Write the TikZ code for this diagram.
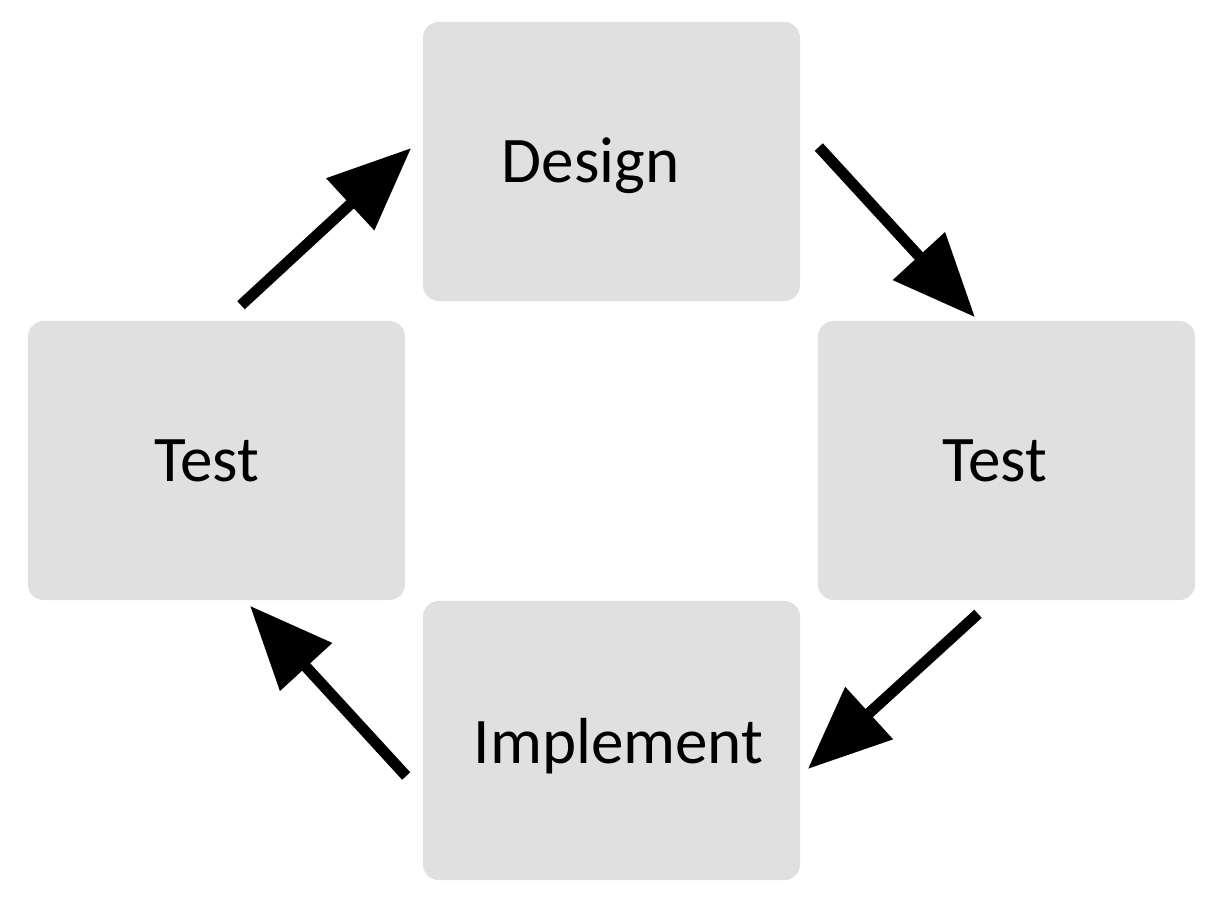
\documentclass[tikz,border=0pt]{standalone}
\usepackage{fontspec}
\setmainfont{Carlito}
\usetikzlibrary{arrows.meta}
\definecolor{boxgray}{HTML}{E0E0E0}
\tikzset{
  stage/.style={fill=boxgray,rounded corners=0.16cm,minimum width=3.77cm,minimum height=2.79cm,inner sep=0pt},
  stagetxt/.style={anchor=base,inner sep=0pt,font=\fontsize{18.5}{22}\selectfont},
  flow/.style={line width=0.11cm,-{Triangle[length=0.83cm,width=0.68cm]}}
}
\begin{document}
\begin{tikzpicture}[x=0.01cm,y=-0.01cm]
\useasboundingbox (0,0) rectangle (1220,908);

% the four boxes
\node[stage] (design) at (611.5,161.5) {};
\node[stage] (ltest) at (216.5,460.5) {};
\node[stage] (rtest) at (1006.5,460.5) {};
\node[stage] (impl) at (611.5,740.5) {};

\node[stagetxt] (designtxt) at ([shift={(-21,20.5)}]design.center) {Design};
\node[stagetxt] (ltesttxt) at ([shift={(-9.5,20.5)}]ltest.center) {Test};
\node[stagetxt] (rtesttxt) at ([shift={(-11.5,20.5)}]rtest.center) {Test};
\node[stagetxt] (impltxt) at ([shift={(7,22.5)}]impl.center) {Implement};

% arrows round the cycle
\draw[flow] ([shift={(24.5,-15)}]ltest.north) -- ([shift={(-11,-13.5)}]design.west);
\draw[flow] ([shift={(18,-14.5)}]design.east) -- ([shift={(-31.5,-3)}]rtest.north);
\draw[flow] ([shift={(-28.5,13)}]rtest.south) -- ([shift={(7,28.5)}]impl.east);
\draw[flow] ([shift={(-16,35.5)}]impl.west) -- ([shift={(33.5,5)}]ltest.south);
\end{tikzpicture}
\end{document}
